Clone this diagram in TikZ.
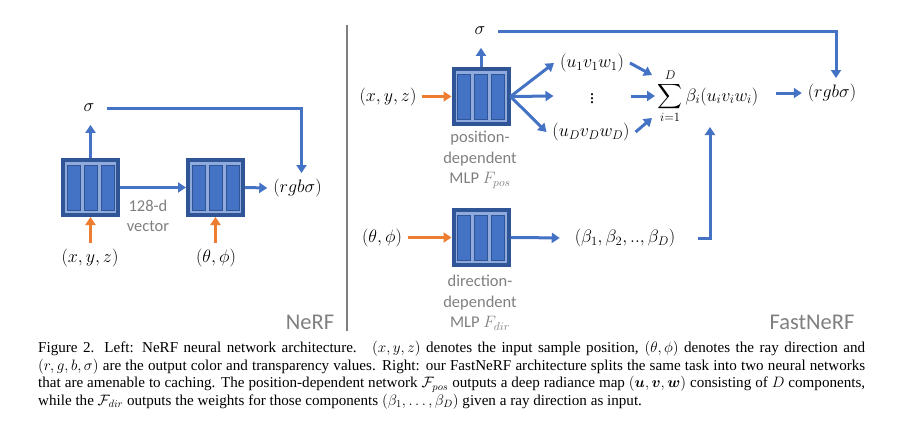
\documentclass[tikz,border=0pt]{standalone}
\usepackage{fix-cm}
\usepackage{xcolor}
\usepackage{amsmath}
\usepackage{fontspec}
\setmainfont{Liberation Serif}
\newfontfamily\calibri{Carlito}
\usepackage{tikz}
\usetikzlibrary{arrows.meta}

\definecolor{arrowblue}{HTML}{4472C4}
\definecolor{boxdark}{HTML}{2F5597}
\definecolor{boxlight}{HTML}{8FAADC}
\definecolor{inorange}{HTML}{ED7D31}
\definecolor{labgray}{HTML}{7F7F7F}

\begin{document}
\begin{tikzpicture}[x=1pt,y=-1pt,
	mlp/.style={draw=boxdark, fill=boxlight, line width=4pt, minimum size=55pt, inner sep=0pt},
	bar/.style={draw=boxdark, fill=arrowblue, line width=1pt},
	flow/.style={arrowblue, line width=3pt, -{Triangle[length=8pt,width=10pt]}},
	feed/.style={inorange, line width=3pt, -{Triangle[length=8pt,width=10pt]}},
	lab/.style={inner sep=0pt, outer sep=6pt, font=\fontsize{18}{21}\selectfont},
	sig/.style={lab, outer sep=13pt},
	note/.style={labgray, align=center, font=\calibri\fontsize{16.5}{20.5}\selectfont},
	paneltitle/.style={labgray, font=\calibri\fontsize{22.5}{26}\selectfont},
	captext/.style={anchor=north west, inner sep=0pt, text width=827pt, align=justify, font=\fontsize{15.1}{17.7}\selectfont}]

			\useasboundingbox (0,0) rectangle (905,429);

			% NeRF
			\node [mlp] (L1) at (90.5,187.5) {};
			\node [mlp] (L2) at (215.5,187.5) {};
			\node [sig] (sigL) at (89,108) {$\sigma$};
			\node [lab] (rgbL) at (297.5,188) {$(rgb\sigma)$};
			\node [lab] (xyzL) at (90,258) {$(x,y,z)$};
			\node [lab] (tpL) at (216,258) {$(\theta,\phi)$};
			\node [note] (vec) at (148,216) {128-d\\vector};
			\node [paneltitle] (nerf) at (310,322) {NeRF};

			\draw [flow] (L1.north) -- (L1.north |- sigL.south);
			\draw [flow] (sigL.east) -| ([xshift=4pt]rgbL.north);
			\draw [flow] (L1.east) -- (L2.west);
			\draw [flow] (L2.east) -- (rgbL.west);
			\draw [feed] (xyzL.north -| L1) -- (L1.south);
			\draw [feed] (tpL.north -| L2) -- (L2.south);

			\draw [labgray, line width=1.2pt] (347,25) -- (347,331);

			% FastNeRF
			\node [mlp] (P) at (481,96.5) {};
			\node [mlp] (Dr) at (481,237.5) {};
			\node [sig] (sigR) at (480,31) {$\sigma$};
			\node [lab] (xyzR) at (388,97) {$(x,y,z)$};
			\node [lab] (u1) at (592,63) {$(u_1v_1w_1)$};
			\node [lab, minimum width=65pt] (vd) at (592,96) {$\vdots$};
			\node [lab] (uD) at (591,132) {$(u_Dv_Dw_D)$};
			\node [lab, anchor=base] (sum) at (708,101) {$\displaystyle\sum_{i=1}^{D}\beta_i(u_iv_iw_i)$};
			\node [lab] (rgbR) at (832,93) {$(rgb\sigma)$};
			\node [lab] (tpR) at (382,238) {$(\theta,\phi)$};
			\node [lab] (beta) at (625,238) {$(\beta_1,\beta_2,..,\beta_D)$};
			\node [note] (posn) at (480,160) {position-\\dependent\\MLP $F_{pos}$};
			\node [note] (dirn) at (480,303) {direction-\\dependent\\MLP $F_{dir}$};
			\node [paneltitle] (fast) at (812,322) {FastNeRF};

			\coordinate (s1) at (652,75);
			\coordinate (s2) at (655,96);
			\coordinate (s3) at (652,118);
			\coordinate (s4) at (710,127);

			\draw [flow] (P.north) -- (P.north |- sigR.south);
			\draw [flow] (sigR.east) -| ([xshift=4pt]rgbR.north);
			\draw [feed] (xyzR.east |- P) -- (P.west);
			\draw [feed] (tpR.east |- Dr) -- (Dr.west);
			\foreach \t in {u1,vd,uD} {
				\draw [flow] (P.east) -- (\t.west);
			}
			\draw [flow] (u1.east) -- (s1);
			\draw [flow] (vd.east) -- (s2);
			\draw [flow] (uD.east) -- (s3);
			\draw [flow, shorten <=12pt] (sum.east |- rgbR) -- (rgbR.west);
			\draw [flow, shorten >=9pt] (Dr.east) -- (beta.west);
			\draw [flow, shorten <=17pt] (beta.east) -| (s4);

			% the bars inside every MLP box
			\foreach \b in {L1,L2,P,Dr} {
				\foreach \dx in {-17,0,17} {
					\filldraw [bar] ([xshift=\dx pt]\b.center) ++(-6.5,-22.5) rectangle ++(13,45);
				}
			}

			\node [captext] (caption) at (38,341) {Figure 2. Left: NeRF neural network architecture. \ $(x,y,z)$ denotes the input sample position, $(\theta,\phi)$ denotes the ray direction and\linebreak $(r,g,b,\sigma)$ are the output color and transparency values. Right: our FastNeRF architecture splits the same task into two neural networks\linebreak that are amenable to caching. The position-dependent network $\mathcal{F}_{pos}$ outputs a deep radiance map $(\boldsymbol{u},\boldsymbol{v},\boldsymbol{w})$ consisting of $D$ components,\linebreak while the $\mathcal{F}_{dir}$ outputs the weights for those components $(\beta_1,\dots,\beta_D)$ given a ray direction as input.};
		\end{tikzpicture}
\end{document}
